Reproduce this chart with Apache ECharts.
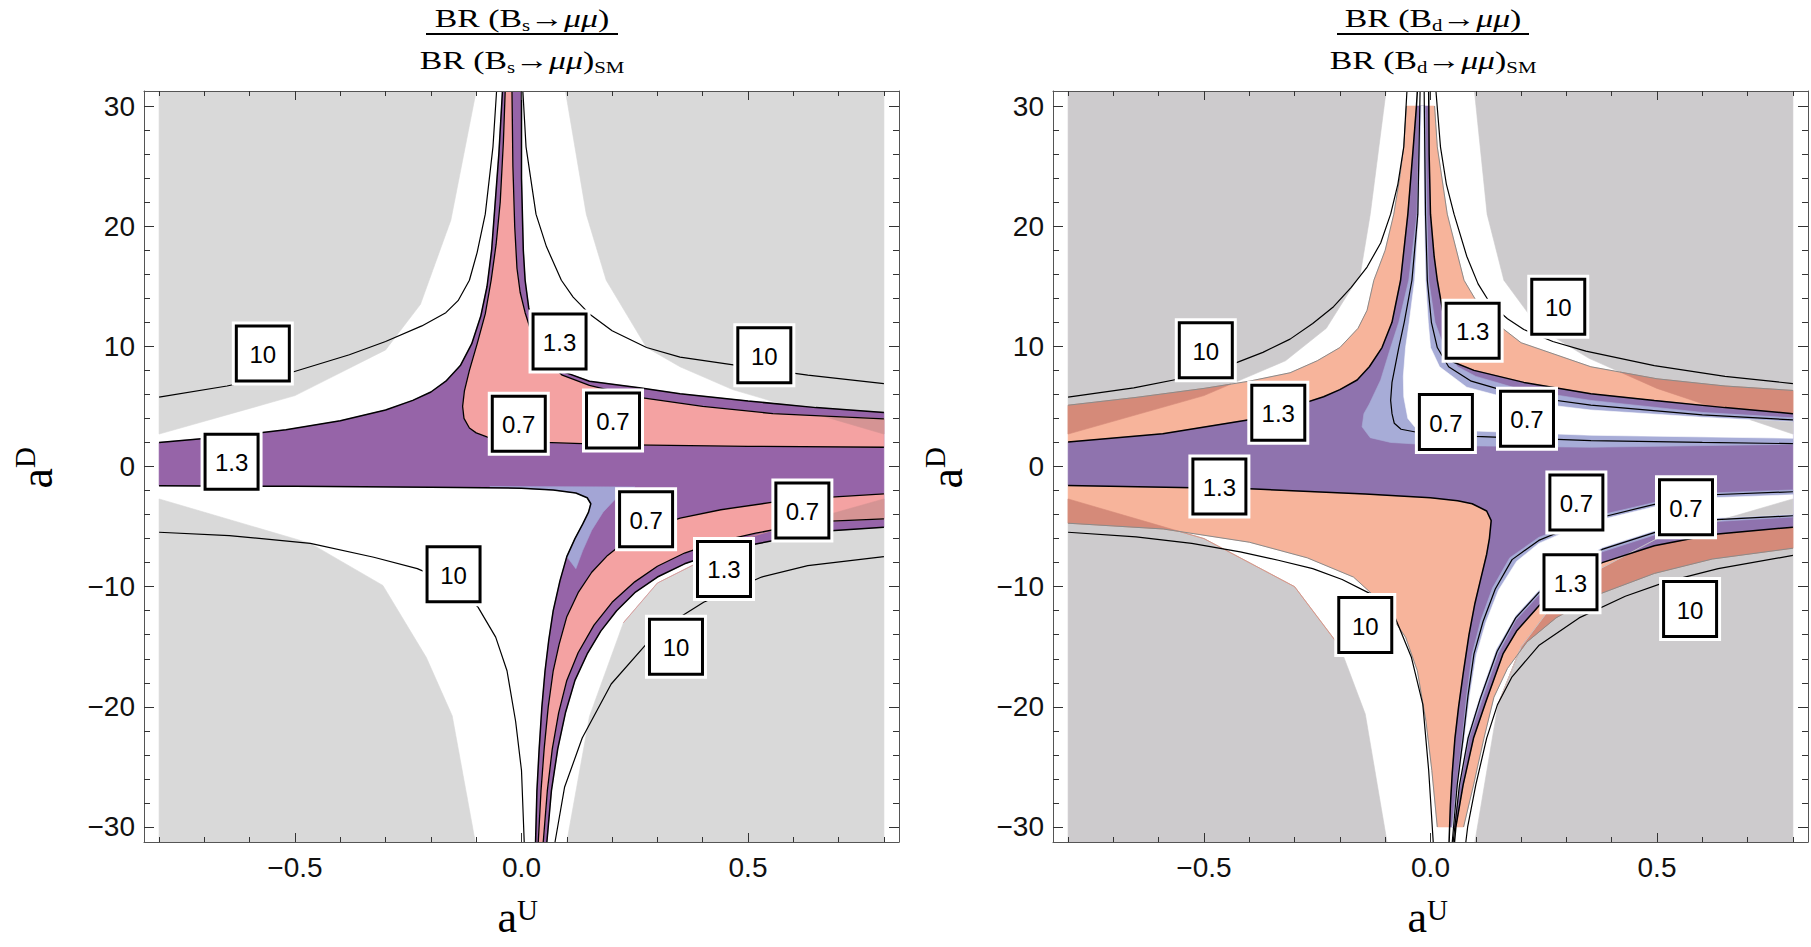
<!DOCTYPE html>
<html><head><meta charset="utf-8">
<script src="https://cdn.jsdelivr.net/npm/echarts@6/dist/echarts.min.js"></script>
<style>html,body{margin:0;padding:0;background:#fff;}#c{width:1811px;height:947px;}</style>
</head><body><div id="c"></div>
<script>
// ---------- axes / ticks ----------
const X_MIN = -0.8333, X_MAX = 0.8333, Y_MIN = -31.25, Y_MAX = 31.25;
const X_MAJOR = [-0.5, 0, 0.5];
const X_MAJOR_TXT = ['\u22120.5', '0.0', '0.5'];
const X_MINOR = [-0.8,-0.7,-0.6,-0.4,-0.3,-0.2,-0.1,0.1,0.2,0.3,0.4,0.6,0.7,0.8];
const Y_MAJOR = [-30,-20,-10,0,10,20,30];
const Y_MAJOR_TXT = ['\u221230','\u221220','\u221210','0','10','20','30'];
const Y_MINOR = [-28,-26,-24,-22,-18,-16,-14,-12,-8,-6,-4,-2,2,4,6,8,12,14,16,18,22,24,26,28];
const FILL_LIMIT_BD = 30;

// ---------- left panel: Bs ----------
const BS_GRAY_TL = [[-0.8,31.25],[-0.1,31.25],[-0.156,20.5],[-0.223,13.5],[-0.3,9.7],[-0.5,5.9],[-0.8,2.7]];
const BS_GRAY_TR = [[0.8,31.25],[0.097,31.25],[0.143,21],[0.187,15.5],[0.276,9.9],[0.35,8.3],[0.466,6.4],[0.8,2.7]];
const BS_GRAY_BL = [[-0.8,-31.25],[-0.8,-2.7],[-0.466,-6.4],[-0.306,-9.9],[-0.21,-15.9],[-0.153,-20.75],[-0.102,-31.25]];
const BS_GRAY_BR = [[0.8,-31.25],[0.8,-2.7],[0.5,-5.9],[0.3,-9.7],[0.225,-13],[0.15,-20.8],[0.1,-31.25]];

const BS_C10_UL = [[-0.055,31.25],[-0.063,26.6],[-0.08,21],[-0.098,17.8],[-0.115,15.5],[-0.14,13.8],[-0.167,12.8],[-0.22,11.7],[-0.3,10.4],[-0.38,9.3],[-0.51,7.8],[-0.65,6.7],[-0.8,5.78]];
const BS_C10_UR = [[0.003,31.25],[0.01,26.6],[0.032,21],[0.055,18.3],[0.088,15.5],[0.114,14.1],[0.15,12.7],[0.2,11.3],[0.276,9.9],[0.35,9.1],[0.479,8.4],[0.632,7.6],[0.8,6.9]];
const BS_C10_LL = [[-0.8,-5.47],[-0.645,-5.75],[-0.466,-6.4],[-0.326,-7.55],[-0.23,-8.5],[-0.15,-9.8],[-0.096,-11.7],[-0.057,-14.2],[-0.032,-17],[-0.013,-21.2],[0.0,-25.3],[0.006,-31.25]];
const BS_C10_LR = [[0.8,-7.5],[0.632,-8.25],[0.53,-9.2],[0.402,-11.3],[0.33,-13],[0.275,-14.8],[0.198,-18.1],[0.134,-22.6],[0.095,-26.7],[0.074,-31.25]];

const BS_C13_UL = [[-0.042,31.25],[-0.05,26],[-0.058,22],[-0.066,18],[-0.076,15],[-0.09,12.5],[-0.11,10.2],[-0.135,8.4],[-0.167,7.1],[-0.2,6.2],[-0.24,5.5],[-0.3,4.7],[-0.4,3.8],[-0.52,3.05],[-0.65,2.5],[-0.8,2.0]];
const BS_C13_UR = [[0.0,31.25],[0.0,24],[0.004,18],[0.008,15.5],[0.016,13.2],[0.03,11],[0.05,9.3],[0.084,8.0],[0.15,7.1],[0.26,6.55],[0.35,6.05],[0.5,5.45],[0.65,4.9],[0.8,4.5]];
const BS_C13_LL = [[-0.8,-1.6],[-0.5,-1.65],[-0.2,-1.72],[0.0,-1.8],[0.07,-1.95],[0.12,-2.2],[0.145,-2.6],[0.153,-3.1],[0.148,-3.8],[0.135,-4.8],[0.118,-6],[0.1,-7.5],[0.085,-9.5],[0.07,-12],[0.06,-14.5],[0.052,-17],[0.045,-20],[0.039,-23.5],[0.034,-27],[0.031,-31.25]];
const BS_C13_LR = [[0.8,-5.05],[0.683,-5.35],[0.6,-5.85],[0.517,-6.45],[0.43,-7.2],[0.36,-8.1],[0.3,-9.2],[0.25,-10.5],[0.21,-12],[0.175,-13.7],[0.145,-15.6],[0.118,-17.8],[0.097,-20.5],[0.08,-23.5],[0.066,-27],[0.056,-31.25]];

const BS_P07_UL = [[-0.036,31.25],[-0.04,27],[-0.047,22],[-0.056,18.5],[-0.067,15.5],[-0.08,12.7],[-0.098,10.2],[-0.115,8],[-0.126,6.3],[-0.13,5.0],[-0.127,4.0],[-0.115,3.2],[-0.1,2.8],[-0.075,2.45],[-0.045,2.2],[0.05,2.0],[0.2,1.82],[0.5,1.68],[0.8,1.6]];
const BS_P07_UR = [[-0.021,31.25],[-0.019,25],[-0.015,20],[-0.01,16.5],[-0.003,14.5],[0.008,12.8],[0.025,10.8],[0.05,9.0],[0.09,7.6],[0.15,6.75],[0.26,5.75],[0.4,5.0],[0.555,4.4],[0.8,3.97]];
const BS_P07_LU = [[0.8,-2.28],[0.683,-2.55],[0.555,-2.97],[0.44,-3.6],[0.35,-4.3],[0.28,-5.2],[0.23,-6.2],[0.19,-7.4],[0.155,-8.8],[0.125,-10.5],[0.1,-12.5],[0.083,-14.8],[0.07,-17],[0.059,-20],[0.05,-23.5],[0.043,-27],[0.037,-31.25]];
const BS_P07_LD = [[0.8,-4.36],[0.683,-4.55],[0.6,-4.95],[0.517,-5.55],[0.43,-6.3],[0.36,-7.2],[0.3,-8.3],[0.25,-9.6],[0.2,-11.3],[0.16,-13.2],[0.125,-15.5],[0.1,-17.8],[0.082,-20.5],[0.068,-23.5],[0.057,-27],[0.048,-31.25]];
const BS_BLUE = [[-0.07,-1.67],[0.25,-1.7],[0.21,-2.6],[0.18,-3.8],[0.155,-5.3],[0.135,-7],[0.12,-8.5],[0.1,-7.5],[0.118,-6],[0.135,-4.8],[0.148,-3.8],[0.153,-3.1],[0.145,-2.6],[0.12,-2.2],[0.07,-1.95],[0.0,-1.8]];

const BS_LABEL_POS = [[-0.571,9.4],[0.536,9.25],[0.084,10.4],[-0.64,0.4],[-0.006,3.55],[0.202,3.83],[0.275,-4.4],[0.62,-3.67],[-0.15,-8.97],[0.447,-8.53],[0.341,-15.0]];
const BS_LABEL_TXT = ['10','10','1.3','1.3','0.7','0.7','0.7','0.7','10','1.3','10'];

// ---------- right panel: Bd ----------
const BD_GRAY_TL = [[-0.8,31.25],[-0.098,31.25],[-0.133,21],[-0.155,16],[-0.23,11.5],[-0.32,8.8],[-0.5,5.9],[-0.8,2.7]];
const BD_GRAY_TR = [[0.8,31.25],[0.097,31.25],[0.125,21],[0.162,15.5],[0.24,11.5],[0.35,9.0],[0.5,6.5],[0.8,2.7]];
const BD_GRAY_BL = [[-0.8,-31.25],[-0.8,-2.7],[-0.5,-6.0],[-0.3,-10],[-0.2,-15],[-0.144,-20.6],[-0.096,-31.25]];
const BD_GRAY_BR = [[0.8,-31.25],[0.8,-2.7],[0.5,-6.0],[0.3,-10],[0.2,-15],[0.149,-19.8],[0.098,-31.25]];

const BD_C10_UL = [[-0.052,31.25],[-0.059,26.6],[-0.072,23.5],[-0.088,21],[-0.11,18.6],[-0.14,16.6],[-0.175,14.9],[-0.214,13.3],[-0.26,11.9],[-0.31,10.6],[-0.37,9.5],[-0.438,8.5],[-0.553,7.3],[-0.655,6.55],[-0.8,5.78]];
const BD_C10_UR = [[0.012,31.25],[0.022,26.6],[0.035,23.5],[0.052,21],[0.08,17.5],[0.105,15.2],[0.133,13.5],[0.17,12.3],[0.206,11.4],[0.27,10.4],[0.343,9.6],[0.494,8.4],[0.65,7.5],[0.8,6.9]];
const BD_C10_LL = [[-0.8,-5.47],[-0.65,-5.85],[-0.527,-6.4],[-0.42,-7.1],[-0.336,-7.8],[-0.26,-8.5],[-0.195,-9.4],[-0.132,-10.6],[-0.08,-12.4],[-0.042,-15.9],[-0.017,-19.8],[-0.004,-25.3],[0.006,-31.25]];
const BD_C10_LR = [[0.8,-7.4],[0.635,-8.5],[0.52,-9.6],[0.43,-10.8],[0.328,-12.6],[0.239,-14.9],[0.18,-17.5],[0.148,-19.8],[0.124,-22.6],[0.1,-26.5],[0.082,-30],[0.078,-31.25]];

const BD_C13_UL = [[-0.029,31.25],[-0.031,30],[-0.038,26.6],[-0.05,21],[-0.066,15.5],[-0.085,12],[-0.107,9.9],[-0.135,8.3],[-0.162,7.2],[-0.2,6.4],[-0.236,5.8],[-0.31,4.9],[-0.4,3.9],[-0.591,2.72],[-0.8,2.03]];
const BD_C13_UR = [[-0.004,31.25],[-0.003,26],[0.0,21],[0.008,17.5],[0.015,15.5],[0.028,12.7],[0.036,10],[0.05,8.7],[0.096,8.0],[0.206,7.0],[0.354,6.05],[0.494,5.5],[0.65,4.9],[0.8,4.4]];
const BD_C13_LL = [[-0.8,-1.58],[-0.4,-1.86],[-0.144,-2.28],[0.0,-2.6],[0.06,-2.85],[0.092,-3.1],[0.124,-3.7],[0.134,-4.5],[0.13,-6],[0.124,-7.3],[0.11,-9.5],[0.098,-11.4],[0.085,-14],[0.073,-17],[0.062,-20],[0.054,-22.6],[0.048,-25.5],[0.044,-28.1],[0.041,-31.25]];
const BD_C13_LR = [[0.8,-5.05],[0.622,-5.65],[0.494,-6.6],[0.379,-8.0],[0.3,-9.8],[0.239,-11.6],[0.19,-13.7],[0.16,-15.6],[0.123,-19.5],[0.095,-22.6],[0.072,-26.5],[0.056,-30],[0.053,-31.25]];

const BD_S_UL = [[-0.8,5.1],[-0.65,5.75],[-0.5,6.5],[-0.4,7.1],[-0.31,7.8],[-0.25,8.8],[-0.2,9.9],[-0.16,11.5],[-0.14,13],[-0.125,15.5],[-0.1,18],[-0.081,21],[-0.068,24],[-0.059,26.6],[-0.053,30]];
const BD_S_UR = [[0.009,30],[0.015,26.6],[0.037,21],[0.074,15.5],[0.118,12.7],[0.2,10.3],[0.354,8.3],[0.5,7.3],[0.65,6.7],[0.8,6.33]];
const BD_S_LL = [[-0.8,-4.72],[-0.59,-5.2],[-0.4,-6.3],[-0.272,-7.6],[-0.17,-9.2],[-0.106,-11.4],[-0.055,-14.2],[-0.029,-17],[-0.01,-21.2],[0.003,-25.3],[0.015,-30]];
const BD_S_LR = [[0.8,-6.8],[0.622,-7.7],[0.494,-8.9],[0.367,-10.7],[0.277,-12.6],[0.213,-14.6],[0.17,-16.8],[0.14,-19.2],[0.118,-22.6],[0.095,-26.5],[0.073,-30]];

const BD_B_UP_L = [[-0.024,30],[-0.03,21],[-0.048,15.5],[-0.07,12],[-0.088,9.9],[-0.11,7.2],[-0.135,5.2],[-0.147,4.4],[-0.151,3.3],[-0.133,2.4],[-0.088,2.0],[0.022,1.75],[0.354,1.6],[0.8,1.85]];
const BD_B_UP_R = [[-0.012,30],[-0.008,21],[-0.004,15.5],[0.01,12],[0.03,9.9],[0.06,8.3],[0.1,7.5],[0.2,6.4],[0.354,5.5],[0.6,4.5],[0.8,4.05]];
const BD_W_UP_L = [[-0.02,30],[-0.026,21],[-0.035,15.5],[-0.047,12],[-0.055,9.9],[-0.06,7.5],[-0.059,5.8],[-0.05,4.0],[-0.035,3.3],[0.0,3.1],[0.1,2.95],[0.354,2.6],[0.8,2.35]];
const BD_W_UP_R = [[-0.016,30],[-0.014,21],[-0.011,15.5],[-0.005,12],[0.0,9.9],[0.02,8.3],[0.08,6.6],[0.2,5.4],[0.354,4.7],[0.6,4.1],[0.8,3.7]];
const BD_B_LO_T = [[0.8,-1.95],[0.622,-2.2],[0.494,-3.0],[0.38,-4.0],[0.3,-5.0],[0.239,-5.9],[0.175,-7.6],[0.137,-10.1],[0.111,-12.8],[0.092,-15.6],[0.08,-19],[0.07,-22.6],[0.058,-26.5],[0.047,-30]];
const BD_B_LO_B = [[0.8,-4.2],[0.622,-4.6],[0.494,-5.7],[0.379,-7.1],[0.3,-8.9],[0.239,-10.7],[0.188,-12.8],[0.149,-15.6],[0.113,-19.5],[0.085,-22.6],[0.065,-26.5],[0.051,-30]];
const BD_W_LO_T = [[0.8,-2.35],[0.622,-2.6],[0.494,-3.35],[0.38,-4.4],[0.3,-5.4],[0.239,-6.4],[0.19,-7.9],[0.15,-10.3],[0.122,-13],[0.101,-15.7],[0.087,-19],[0.075,-22.6],[0.061,-26.5],[0.049,-30]];
const BD_W_LO_B = [[0.8,-3.95],[0.622,-4.3],[0.494,-5.35],[0.379,-6.75],[0.3,-8.5],[0.239,-10.3],[0.188,-12.4],[0.145,-15.2],[0.108,-19.2],[0.081,-22.5],[0.063,-26.5],[0.05,-30]];

const BD_C07_UA = [[-0.023,31.25],[-0.028,21],[-0.041,15.5],[-0.058,12],[-0.07,9.9],[-0.085,7],[-0.088,5.5],[-0.085,4.4],[-0.08,3.6],[-0.065,3.1],[-0.03,2.85],[0.1,2.5],[0.354,2.15],[0.6,2.0],[0.8,1.9]];
const BD_C07_UB = [[-0.014,31.25],[-0.011,21],[-0.007,15.5],[0.002,12],[0.015,9.9],[0.04,8.3],[0.09,7.1],[0.2,5.9],[0.354,5.1],[0.6,4.3],[0.8,3.88]];
const BD_C07_LA = [[0.8,-2.1],[0.622,-2.35],[0.494,-3.15],[0.38,-4.2],[0.3,-5.2],[0.239,-6.15],[0.18,-7.75],[0.143,-10.2],[0.116,-12.9],[0.096,-15.6],[0.083,-19],[0.072,-22.6],[0.059,-26.5],[0.048,-31.25]];
const BD_C07_LB = [[0.8,-4.1],[0.622,-4.45],[0.494,-5.5],[0.379,-6.9],[0.3,-8.7],[0.239,-10.5],[0.188,-12.6],[0.147,-15.4],[0.11,-19.3],[0.083,-22.6],[0.064,-26.5],[0.05,-31.25]];

const BD_LABEL_POS = [[-0.496,9.67],[-0.336,4.47],[0.093,11.3],[0.282,13.3],[0.034,3.7],[0.213,3.97],[-0.466,-1.67],[0.322,-3.0],[0.564,-3.39],[0.309,-9.64],[0.573,-11.86],[-0.144,-13.2]];
const BD_LABEL_TXT = ['10','1.3','1.3','10','0.7','0.7','1.3','0.7','0.7','1.3','10','10'];

// ---------- helpers ----------
const F_SANS = '"Liberation Sans", Arial, Helvetica, sans-serif';
const F_SERIF = '"Liberation Serif", "Times New Roman", serif';
const rev = a => a.slice().reverse();
function crossAB(A, B, P) { return (B[0]-A[0])*(P[1]-A[1]) - (B[1]-A[1])*(P[0]-A[0]); }
function clipConvex(subject, clip) {
  let area = 0;
  for (let i = 0; i < clip.length; i++) { const a = clip[i], b = clip[(i+1)%clip.length]; area += a[0]*b[1]-b[0]*a[1]; }
  const s = area >= 0 ? 1 : -1;
  let out = subject.slice();
  for (let i = 0; i < clip.length && out.length; i++) {
    const A = clip[i], B = clip[(i+1)%clip.length];
    const inp = out; out = [];
    for (let j = 0; j < inp.length; j++) {
      const P = inp[j], Q = inp[(j+1)%inp.length];
      const dp = s*crossAB(A,B,P), dq = s*crossAB(A,B,Q);
      const ip = dp >= 0, iq = dq >= 0;
      if (ip) out.push(P);
      if (ip !== iq) { const t = dp/(dp-dq); out.push([P[0]+t*(Q[0]-P[0]), P[1]+t*(Q[1]-P[1])]); }
    }
  }
  return out;
}
const BAND = [[-1,-FILL_LIMIT_BD],[1,-FILL_LIMIT_BD],[1,FILL_LIMIT_BD],[-1,FILL_LIMIT_BD]];

let zc = 2;
function polySeries(g, pts, color) {
  if (!pts || pts.length < 3) return null;
  return { type:'custom', xAxisIndex:g*4, yAxisIndex:g*4, data: pts, z: zc++, silent:true, animation:false, clip:true,
    renderItem: (params, api) => params.dataIndex === 0 ? { type:'polygon', shape:{ points: pts.map(p => api.coord(p)) }, style:{ fill: color, stroke: color, lineWidth: 0.6 } } : null };
}
function lineSeries(g, pts, color, width) {
  return { type:'line', xAxisIndex:g*4, yAxisIndex:g*4, data: pts, symbol:'none', z: 60, silent:true, animation:false, clip:true,
    lineStyle:{ color, width } };
}
function labelSeries(g, pos, txt) {
  return { type:'custom', xAxisIndex:g*4, yAxisIndex:g*4, data: pos, z: 70, silent:true, animation:false, clip:false,
    renderItem: (params, api) => {
      const c = api.coord([api.value(0), api.value(1)]);
      return { type:'group', children:[
        { type:'rect', shape:{ x:c[0]-31, y:c[1]-32, width:62, height:64 }, style:{ fill:'#fff' } },
        { type:'rect', shape:{ x:c[0]-26.5, y:c[1]-27.5, width:53, height:55 }, style:{ fill:'#fff', stroke:'#000', lineWidth:3 } },
        { type:'text', x:c[0], y:c[1]+1, style:{ text: txt[params.dataIndex], font:'24px '+F_SANS, fill:'#000', align:'center', verticalAlign:'middle' } }
      ]};
    } };
}
function fmt(list, txt) { return v => { const i = list.findIndex(t => Math.abs(t - v) < 1e-9); return i >= 0 ? txt[i] : ''; }; }

function axesFor(g) {
  const frame = { show:true, onZero:false, lineStyle:{ color:'#555', width:1 } };
  const noLine = { show:false, onZero:false };
  const tk = (vals, len) => ({ show:true, inside:true, length:len, customValues: vals, lineStyle:{ color:'#333', width:1 } });
  const base = (pos, extra) => Object.assign({ gridIndex:g, type:'value', position:pos, z:80, splitLine:{show:false}, axisLabel:{show:false} }, extra);
  const xs = [
    base('bottom', { min:X_MIN, max:X_MAX, axisLine:frame, axisTick:tk(X_MAJOR,9),
      axisLabel:{ show:true, customValues:X_MAJOR, formatter: fmt(X_MAJOR, X_MAJOR_TXT), fontSize:28, fontFamily:F_SANS, color:'#111', margin:11 } }),
    base('bottom', { min:X_MIN, max:X_MAX, axisLine:noLine, axisTick:tk(X_MINOR,5) }),
    base('top', { min:X_MIN, max:X_MAX, axisLine:frame, axisTick:tk(X_MAJOR,9) }),
    base('top', { min:X_MIN, max:X_MAX, axisLine:noLine, axisTick:tk(X_MINOR,5) })
  ];
  const ys = [
    base('left', { min:Y_MIN, max:Y_MAX, axisLine:frame, axisTick:tk(Y_MAJOR,10),
      axisLabel:{ show:true, customValues:Y_MAJOR, formatter: fmt(Y_MAJOR, Y_MAJOR_TXT), fontSize:28, fontFamily:F_SANS, color:'#111', margin:9 } }),
    base('left', { min:Y_MIN, max:Y_MAX, axisLine:noLine, axisTick:tk(Y_MINOR,6) }),
    base('right', { min:Y_MIN, max:Y_MAX, axisLine:frame, axisTick:tk(Y_MAJOR,10) }),
    base('right', { min:Y_MIN, max:Y_MAX, axisLine:noLine, axisTick:tk(Y_MINOR,6) })
  ];
  return { xs, ys };
}

// ---------- colors ----------
const C = {
  bsGray:'#d9d9d9', bsPurple:'#9664a8', bsPink:'#f4a2a2', bsBlue:'#a3a5d5', bsDark:'#d59494',
  bdGray:'#cdcbcd', bdPurple:'#8f73ae', bdSalmon:'#f7b49b', bdBlue:'#a7acd7', bdDark:'#d58a79'
};

const series = [];
const push = s => { if (s) series.push(s); };

// left panel fills
const bsGrays = [BS_GRAY_TL, BS_GRAY_TR, BS_GRAY_BL, BS_GRAY_BR];
bsGrays.forEach(p => push(polySeries(0, p, C.bsGray)));
push(polySeries(0, [...BS_C13_UL, ...BS_C13_LL, ...rev(BS_C13_LR), ...rev(BS_C13_UR)], C.bsPurple));
push(polySeries(0, BS_BLUE, C.bsBlue));
const bsPinks = [[...BS_P07_UL, ...rev(BS_P07_UR)], [...BS_P07_LU, ...rev(BS_P07_LD)]];
bsPinks.forEach(p => push(polySeries(0, p, C.bsPink)));
bsPinks.forEach(p => bsGrays.forEach(gp => push(polySeries(0, clipConvex(p, gp), C.bsDark))));
// left lines
[BS_C10_UL, BS_C10_UR, BS_C10_LL, BS_C10_LR].forEach(l => push(lineSeries(0, l, '#000', 1.2)));
[BS_C13_UL, BS_C13_UR, BS_C13_LL, BS_C13_LR].forEach(l => push(lineSeries(0, l, '#000', 1.5)));
[BS_P07_UL, BS_P07_UR, BS_P07_LU, BS_P07_LD].forEach(l => push(lineSeries(0, l, '#000', 1.3)));
push(labelSeries(0, BS_LABEL_POS, BS_LABEL_TXT));

// right panel fills
const bdGrays = [BD_GRAY_TL, BD_GRAY_TR, BD_GRAY_BL, BD_GRAY_BR];
bdGrays.forEach(p => push(polySeries(1, p, C.bdGray)));
const bdSalmons = [
  [...BD_S_UL, ...BD_C13_UL],
  [...BD_S_UR, [0.8,4.4], ...rev(BD_C13_UR)],
  [...BD_S_LL, ...rev(BD_C13_LL)],
  [...BD_S_LR, ...rev(BD_C13_LR)]
].map(p => clipConvex(p, BAND));
bdSalmons.forEach(p => push(polySeries(1, p, C.bdSalmon)));
bdSalmons.forEach(p => bdGrays.forEach(gp => push(polySeries(1, clipConvex(p, gp), C.bdDark))));
push(polySeries(1, clipConvex([...BD_C13_UL, ...BD_C13_LL, ...rev(BD_C13_LR), ...rev(BD_C13_UR)], BAND), C.bdPurple));
push(polySeries(1, clipConvex([...BD_B_UP_L, ...rev(BD_B_UP_R)], BAND), C.bdBlue));
push(polySeries(1, clipConvex([...BD_B_LO_T, ...rev(BD_B_LO_B)], BAND), C.bdBlue));
const bdWhites = [[...BD_W_UP_L, ...rev(BD_W_UP_R)], [...BD_W_LO_T, ...rev(BD_W_LO_B)]].map(p => clipConvex(p, BAND));
bdWhites.forEach(p => push(polySeries(1, p, '#ffffff')));
bdWhites.forEach(p => bdGrays.forEach(gp => push(polySeries(1, clipConvex(p, gp), C.bdGray))));
// right lines
[BD_S_UL, BD_S_UR, BD_S_LL, BD_S_LR].forEach(l => push(lineSeries(1, l, '#8a8a8a', 1)));
[BD_C10_UL, BD_C10_UR, BD_C10_LL, BD_C10_LR].forEach(l => push(lineSeries(1, l, '#000', 1.2)));
[BD_C13_UL, BD_C13_UR, BD_C13_LL, BD_C13_LR].forEach(l => push(lineSeries(1, l, '#000', 1.5)));
[BD_C07_UA, BD_C07_UB, BD_C07_LA, BD_C07_LB].forEach(l => push(lineSeries(1, l, '#000', 1.2)));
push(labelSeries(1, BD_LABEL_POS, BD_LABEL_TXT));

const a0 = axesFor(0), a1 = axesFor(1);

const TITLE_RICH = {
  s: { fontSize:16, fontFamily:F_SERIF, verticalAlign:'bottom', lineHeight:13 },
  m: { fontSize:26, fontFamily:F_SERIF, fontStyle:'italic', lineHeight:30 }
};
function titleEls(cx, sub) {
  const st = t => ({ text:t, font:'26px '+F_SERIF, lineHeight:30, fill:'#000', align:'center', verticalAlign:'middle', rich: TITLE_RICH });
  return [
    { type:'group', x:cx, y:18, scaleX:1.3, z:100, children:[ { type:'text', x:0, y:0, style: st('BR (B{s|' + sub + '}\u2192{m|\u03bc\u03bc})') } ] },
    { type:'line', z:100, shape:{ x1:cx-96, y1:34, x2:cx+96, y2:34 }, style:{ stroke:'#000', lineWidth:2 } },
    { type:'group', x:cx, y:60, scaleX:1.3, z:100, children:[ { type:'text', x:0, y:0, style: st('BR (B{s|' + sub + '}\u2192{m|\u03bc\u03bc}){s|SM}') } ] }
  ];
}
function axisTitleEls(xc, yMidX) {
  return [
    { type:'text', x:xc, y:917, z:100, style:{ text:'a', font:'44px '+F_SERIF, fill:'#000', align:'right', verticalAlign:'middle' } },
    { type:'text', x:xc, y:910, z:100, style:{ text:'U', font:'29px '+F_SERIF, fill:'#000', align:'left', verticalAlign:'middle' } },
    { type:'group', x:yMidX, y:468, rotation:Math.PI/2, z:100, children:[
      { type:'text', x:0, y:0, style:{ text:'a', font:'46px '+F_SERIF, fill:'#000', align:'right', verticalAlign:'middle' } },
      { type:'text', x:0, y:-11, style:{ text:'D', font:'29px '+F_SERIF, fill:'#000', align:'left', verticalAlign:'middle' } }
    ]}
  ];
}

const option = {
  animation:false,
  backgroundColor:'#ffffff',
  grid:[ { left:144, top:91, width:755, height:751 }, { left:1053, top:91, width:755, height:751 } ],
  xAxis:[...a0.xs, ...a1.xs],
  yAxis:[...a0.ys, ...a1.ys],
  graphic:{ elements:[ ...titleEls(522, 's'), ...titleEls(1433, 'd'), ...axisTitleEls(517, 36), ...axisTitleEls(1427, 946) ] },
  series
};
const chart = echarts.init(document.getElementById('c'), null, { renderer:'svg', width:1811, height:947 });
chart.setOption(option);
</script></body></html>
